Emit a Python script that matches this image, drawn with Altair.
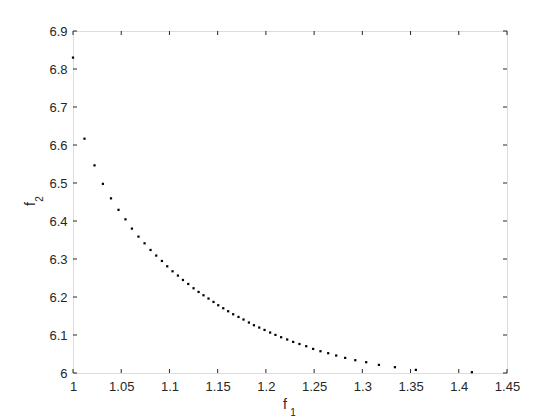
import altair as alt
import pandas as pd

f1 = [1.0000, 1.0119, 1.0223, 1.0310, 1.0394, 1.0472, 1.0544, 1.0611, 1.0679, 1.0742,
      1.0804, 1.0863, 1.0922, 1.0977, 1.1032, 1.1088, 1.1140, 1.1195, 1.1250, 1.1302,
      1.1353, 1.1405, 1.1457, 1.1506, 1.1558, 1.1609, 1.1661, 1.1716, 1.1768, 1.1824,
      1.1876, 1.1931, 1.1986, 1.2044, 1.2099, 1.2158, 1.2221, 1.2283, 1.2348, 1.2418,
      1.2490, 1.2566, 1.2646, 1.2729, 1.2822, 1.2927, 1.3040, 1.3172, 1.3338, 1.3555,
      1.4136]
f2 = [6.8300, 6.6166, 6.5464, 6.4978, 6.4596, 6.4294, 6.4044, 6.3800, 6.3589, 6.3413,
      6.3237, 6.3090, 6.2948, 6.2808, 6.2677, 6.2564, 6.2448, 6.2343, 6.2230, 6.2133,
      6.2046, 6.1959, 6.1870, 6.1783, 6.1704, 6.1625, 6.1546, 6.1475, 6.1407, 6.1328,
      6.1257, 6.1196, 6.1133, 6.1065, 6.1002, 6.0941, 6.0881, 6.0818, 6.0763, 6.0705,
      6.0634, 6.0573, 6.0521, 6.0460, 6.0397, 6.0337, 6.0284, 6.0213, 6.0153, 6.0082,
      6.0021]
x_ticks = [1.0, 1.05, 1.1, 1.15, 1.2, 1.25, 1.3, 1.35, 1.4, 1.45]
y_ticks = [6.0, 6.1, 6.2, 6.3, 6.4, 6.5, 6.6, 6.7, 6.8, 6.9]

W, H = 434, 342
AX = "#262626"
FONT = "Liberation Sans"

df = pd.DataFrame({"f1": f1, "f2": f2})
xs = alt.Scale(domain=[1.0, 1.45], nice=False, zero=False)
ys = alt.Scale(domain=[6.0, 6.9], nice=False, zero=False)

xaxis = alt.Axis(values=x_ticks, format="~g", title=None, domain=False, ticks=False,
                 grid=False, labelFont=FONT, labelFontSize=13, labelColor=AX,
                 labelPadding=7, labelFlush=False, labelOverlap=False, labelBound=False)
yaxis = alt.Axis(values=y_ticks, format="~g", title=None, domain=False, ticks=False,
                 grid=False, labelFont=FONT, labelFontSize=13, labelColor=AX,
                 labelPadding=6, labelFlush=False, labelOverlap=False, labelBound=False)

pts = alt.Chart(df).mark_square(size=5, color="black", opacity=1).encode(
    x=alt.X("f1:Q", scale=xs, axis=xaxis),
    y=alt.Y("f2:Q", scale=ys, axis=yaxis),
)

xt = pd.DataFrame({"v": x_ticks})
yt = pd.DataFrame({"v": y_ticks})
TL = 4
xb = alt.Chart(xt).mark_rule(color=AX, strokeWidth=1).encode(
    x=alt.X("v:Q", scale=xs, axis=xaxis), y=alt.value(H), y2=alt.value(H - TL))
xtop = alt.Chart(xt).mark_rule(color=AX, strokeWidth=1).encode(
    x=alt.X("v:Q", scale=xs, axis=xaxis), y=alt.value(0), y2=alt.value(TL))
yl = alt.Chart(yt).mark_rule(color=AX, strokeWidth=1).encode(
    y=alt.Y("v:Q", scale=ys, axis=yaxis), x=alt.value(0), x2=alt.value(TL))
yr = alt.Chart(yt).mark_rule(color=AX, strokeWidth=1).encode(
    y=alt.Y("v:Q", scale=ys, axis=yaxis), x=alt.value(W), x2=alt.value(W - TL))

def txt(s, x, y, size, angle=0):
    return alt.Chart(pd.DataFrame({"t": [s]})).mark_text(
        font=FONT, fontSize=size, color=AX, align="center", baseline="alphabetic",
        angle=angle).encode(text="t:N", x=alt.value(x), y=alt.value(y))

titles = [
    txt("f", 212, 378, 14),
    txt("1", 220, 385, 10),
    txt("f", -38, 173, 14, 270),
    txt("2", -30, 168, 10, 270),
]

chart = alt.layer(pts, xb, xtop, yl, yr, *titles).properties(
    width=W, height=H,
    autosize=alt.AutoSizeParams(type="none"),
    padding={"left": 65, "top": 23, "right": 30, "bottom": 50},
).configure_view(stroke=AX, strokeWidth=1).configure(background="white")

chart.save("out.html", embed_options={"renderer": "svg", "actions": False})
